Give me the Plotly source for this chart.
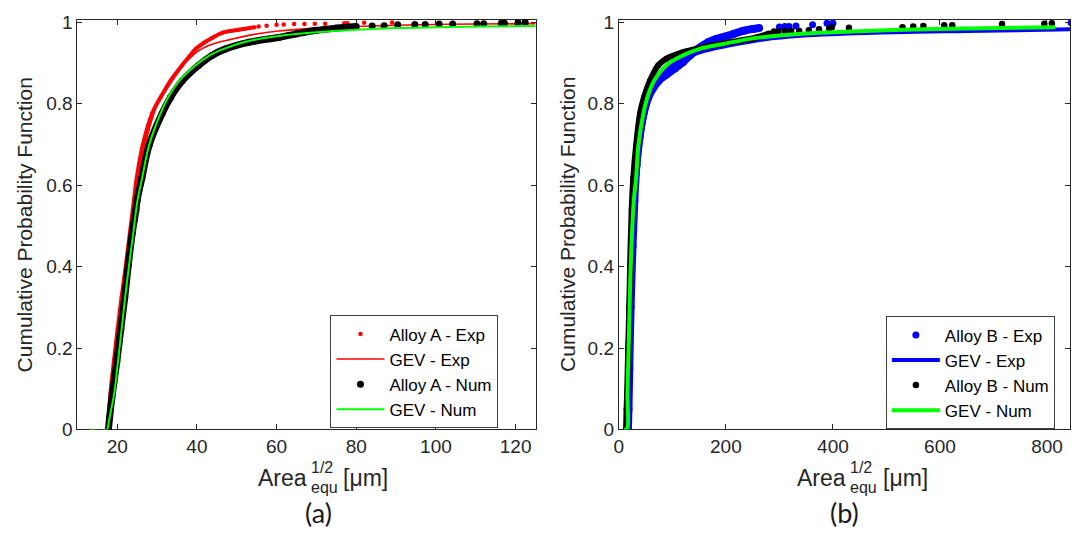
import plotly.graph_objects as go

# ---------------- Panel (a): Alloy A ----------------
a_exp_dense_x = [17.7, 17.9, 18.3, 19.2, 20.1, 21.1, 22.2, 23.2, 24.2, 24.9, 26.4, 28.8, 30.9, 33.4, 36.3, 38.0, 39.7, 41.8, 43.8, 46.5, 50.5, 54.5]
a_exp_dense_y = [0.000, 0.030, 0.088, 0.170, 0.246, 0.325, 0.405, 0.484, 0.563, 0.618, 0.698, 0.777, 0.816, 0.856, 0.895, 0.915, 0.935, 0.950, 0.962, 0.975, 0.982, 0.988]
a_exp_tail_x = [55.5, 57.5, 60.0, 61.8, 64.4, 67.0, 69.6, 72.2, 77.0, 77.8, 82.0, 89.0]
a_exp_tail_y = [0.990, 0.992, 0.994, 0.995, 0.996, 0.996, 0.997, 0.997, 0.998, 0.998, 0.999, 1.000]

a_gev_exp_x = [13, 17.3, 17.8, 18.5, 19.5, 20.5, 21.6, 22.7, 23.8, 25.0, 26.6, 28.7, 31.0, 34.0, 37.5, 40.5, 44.0, 48.8, 54.0, 60.5, 70, 80, 90, 100, 110, 125]
a_gev_exp_y = [0, 0, 0.03, 0.09, 0.18, 0.27, 0.36, 0.45, 0.53, 0.60, 0.68, 0.76, 0.82, 0.87, 0.905, 0.931, 0.947, 0.959, 0.970, 0.979, 0.986, 0.990, 0.993, 0.995, 0.996, 0.997]

a_num_dense_x = [17.8, 18.1, 18.8, 19.9, 20.9, 21.9, 22.8, 23.8, 24.7, 25.0, 26.2, 28.0, 31.3, 33.4, 36.3, 40.5, 43.8, 47.2, 53.0, 60.5, 65.0, 69.6, 75.0, 80.0]
a_num_dense_y = [0.000, 0.030, 0.088, 0.167, 0.246, 0.325, 0.405, 0.484, 0.539, 0.563, 0.618, 0.698, 0.777, 0.816, 0.856, 0.895, 0.919, 0.935, 0.951, 0.963, 0.972, 0.980, 0.986, 0.990]
a_num_tail_x = [84.0, 87.0, 90.4, 94.7, 97.3, 100.8, 104.2, 110.3, 112.0, 116.4, 117.2, 120.6, 122.4]
a_num_tail_y = [0.991, 0.992, 0.994, 0.995, 0.995, 0.996, 0.996, 0.997, 0.997, 0.998, 0.998, 0.999, 1.000]

a_gev_num_x = [13, 17.4, 17.9, 18.6, 19.25, 20.2, 21.1, 22.0, 23.0, 24.0, 25.1, 26.3, 28.0, 30.9, 33.0, 35.5, 39.7, 43.0, 46.75, 52.0, 60.0, 70, 80, 90, 100, 112, 125]
a_gev_num_y = [0, 0, 0.02, 0.055, 0.088, 0.167, 0.246, 0.325, 0.405, 0.48, 0.563, 0.62, 0.698, 0.777, 0.82, 0.856, 0.895, 0.918, 0.935, 0.952, 0.966, 0.976, 0.982, 0.986, 0.988, 0.990, 0.991]

# ---------------- Panel (b): Alloy B ----------------
b_exp_dense_x = [17, 18, 19.5, 22, 25.5, 29, 33, 39, 46, 55, 73.8, 89, 104.8, 120, 132.7, 148, 167, 182, 213, 232, 250.6, 262]
b_exp_dense_y = [0.000, 0.05, 0.15, 0.30, 0.45, 0.563, 0.65, 0.72, 0.777, 0.816, 0.856, 0.872, 0.887, 0.903, 0.919, 0.935, 0.951, 0.959, 0.971, 0.979, 0.984, 0.986]
b_exp_tail_x = [300, 310, 318, 331, 362, 389, 400, 845]
b_exp_tail_y = [0.989, 0.990, 0.990, 0.991, 0.994, 0.998, 0.998, 0.999]

b_gev_exp_x = [9, 15.5, 17, 20, 23.5, 29, 34, 39, 49, 57, 70, 95, 128, 160, 205, 270, 340, 490, 650, 845]
b_gev_exp_y = [0, 0, 0.07, 0.22, 0.38, 0.54, 0.62, 0.69, 0.77, 0.81, 0.85, 0.89, 0.915, 0.93, 0.943, 0.958, 0.967, 0.975, 0.979, 0.983]

b_num_dense_x = [13.5, 14.5, 15.5, 17.5, 19.5, 21, 24, 27, 32.3, 39.7, 47, 58, 73.8, 89, 120, 157, 207, 257, 281]
b_num_dense_y = [0.000, 0.05, 0.088, 0.20, 0.30, 0.40, 0.539, 0.618, 0.698, 0.777, 0.816, 0.856, 0.895, 0.911, 0.927, 0.939, 0.951, 0.963, 0.973]
b_num_tail_x = [290, 298, 310, 322, 337, 355, 374, 393, 398, 430, 530, 550, 569, 608, 623, 716, 795, 809]
b_num_tail_y = [0.978, 0.978, 0.979, 0.979, 0.979, 0.981, 0.983, 0.985, 0.988, 0.987, 0.988, 0.990, 0.991, 0.993, 0.993, 0.996, 0.997, 0.998]

b_gev_num_x = [9, 15, 16.1, 19.2, 22.3, 28, 32.3, 36.6, 46, 53.4, 65.7, 89, 120, 151, 195, 257, 330, 487, 650, 815]
b_gev_num_y = [0, 0, 0.088, 0.246, 0.405, 0.563, 0.618, 0.698, 0.777, 0.816, 0.856, 0.895, 0.919, 0.935, 0.947, 0.962, 0.971, 0.980, 0.985, 0.988]

y_ticks = [0, 0.2, 0.4, 0.6, 0.8, 1]
y_ticktext = ["0", "0.2", "0.4", "0.6", "0.8", "1"]
a_xticks = [20, 40, 60, 80, 100, 120]
b_xticks = [0, 200, 400, 600, 800]

RED, BLACK, GREEN, BLUE = "#ff0000", "#000000", "#00ff00", "#0000ff"

fig = go.Figure()

# Panel (a)
fig.add_trace(go.Scatter(x=a_exp_dense_x, y=a_exp_dense_y, mode="lines+markers",
                         line=dict(color=RED, width=4, shape="spline"), marker=dict(color=RED, size=4),
                         showlegend=False, xaxis="x", yaxis="y"))
fig.add_trace(go.Scatter(x=a_exp_tail_x, y=a_exp_tail_y, mode="markers", name="Alloy A - Exp",
                         marker=dict(color=RED, size=4.5), legend="legend", legendrank=1,
                         xaxis="x", yaxis="y"))
fig.add_trace(go.Scatter(x=a_gev_exp_x, y=a_gev_exp_y, mode="lines", name="GEV - Exp",
                         line=dict(color=RED, width=1.6, shape="spline"), legend="legend", legendrank=2,
                         xaxis="x", yaxis="y"))
fig.add_trace(go.Scatter(x=a_num_dense_x, y=a_num_dense_y, mode="lines+markers",
                         line=dict(color=BLACK, width=7, shape="spline"), marker=dict(color=BLACK, size=7),
                         showlegend=False, xaxis="x", yaxis="y"))
fig.add_trace(go.Scatter(x=a_num_tail_x, y=a_num_tail_y, mode="markers", name="Alloy A - Num",
                         marker=dict(color=BLACK, size=7), legend="legend", legendrank=3,
                         xaxis="x", yaxis="y"))
fig.add_trace(go.Scatter(x=a_gev_num_x, y=a_gev_num_y, mode="lines", name="GEV - Num",
                         line=dict(color=GREEN, width=2, shape="spline"), legend="legend", legendrank=4,
                         xaxis="x", yaxis="y"))

# Panel (b)
fig.add_trace(go.Scatter(x=b_exp_dense_x, y=b_exp_dense_y, mode="lines+markers",
                         line=dict(color=BLUE, width=8, shape="spline"), marker=dict(color=BLUE, size=8),
                         showlegend=False, xaxis="x2", yaxis="y2"))
fig.add_trace(go.Scatter(x=b_exp_tail_x, y=b_exp_tail_y, mode="markers", name="Alloy B - Exp",
                         marker=dict(color=BLUE, size=7), legend="legend2", legendrank=1,
                         xaxis="x2", yaxis="y2"))
fig.add_trace(go.Scatter(x=b_gev_exp_x, y=b_gev_exp_y, mode="lines", name="GEV - Exp",
                         line=dict(color=BLUE, width=4, shape="spline"), legend="legend2", legendrank=2,
                         xaxis="x2", yaxis="y2"))
fig.add_trace(go.Scatter(x=b_num_dense_x, y=b_num_dense_y, mode="lines+markers",
                         line=dict(color=BLACK, width=6, shape="spline"), marker=dict(color=BLACK, size=6),
                         showlegend=False, xaxis="x2", yaxis="y2"))
fig.add_trace(go.Scatter(x=b_num_tail_x, y=b_num_tail_y, mode="markers", name="Alloy B - Num",
                         marker=dict(color=BLACK, size=6.5), legend="legend2", legendrank=3,
                         xaxis="x2", yaxis="y2"))
fig.add_trace(go.Scatter(x=b_gev_num_x, y=b_gev_num_y, mode="lines", name="GEV - Num",
                         line=dict(color=GREEN, width=4, shape="spline"), legend="legend2", legendrank=4,
                         xaxis="x2", yaxis="y2"))

W, H = 1072, 542
def px(x): return x / W
def py(y): return 1 - y / H

AX = "#262626"
FONT = "Liberation Sans, Arial, sans-serif"
common_axis = dict(showline=True, linecolor=AX, linewidth=1, mirror="ticks", ticks="inside",
                   ticklen=5, tickcolor=AX, showgrid=False, zeroline=False, layer="below traces",
                   tickfont=dict(family=FONT, size=19, color=AX))

legend_common = dict(xanchor="left", yanchor="top", bgcolor="white",
                     bordercolor="#404040", borderwidth=1, font=dict(family=FONT, size=17, color="black"),
                     itemwidth=48, tracegroupgap=0)

fig.update_layout(
    width=W, height=H, margin=dict(l=0, r=0, t=0, b=0, pad=0),
    paper_bgcolor="white", plot_bgcolor="white",
    xaxis=dict(domain=[px(72.7), px(533)], range=[10, 125], tickvals=a_xticks, anchor="y", **common_axis),
    yaxis=dict(domain=[py(437), py(13)], range=[0, 1.007], tickvals=y_ticks, ticktext=y_ticktext,
               anchor="x", **common_axis),
    xaxis2=dict(domain=[px(616.7), px(1070)], range=[0, 843], tickvals=b_xticks, anchor="y2", **common_axis),
    yaxis2=dict(domain=[py(437), py(13)], range=[0, 1.007], tickvals=y_ticks, ticktext=y_ticktext,
                anchor="x2", **common_axis),
    legend=dict(x=px(327), y=py(319), **legend_common),
    legend2=dict(x=px(885), y=py(320), **legend_common),
)

ann = []
for cx in (20, 565):
    ann.append(dict(text="Cumulative Probability Function", x=px(cx), y=py(225), xref="paper", yref="paper",
                    showarrow=False, textangle=-90, font=dict(family=FONT, size=21, color=AX),
                    xanchor="center", yanchor="middle"))
for split in (305, 847):
    ann.append(dict(text="Area", x=px(split), y=py(487), xref="paper", yref="paper", showarrow=False,
                    xanchor="right", yanchor="middle", font=dict(family=FONT, size=23, color=AX)))
    ann.append(dict(text="1/2", x=px(split), y=py(476), xref="paper", yref="paper", showarrow=False,
                    xanchor="left", yanchor="middle", font=dict(family=FONT, size=16, color=AX)))
    ann.append(dict(text="equ", x=px(split), y=py(497), xref="paper", yref="paper", showarrow=False,
                    xanchor="left", yanchor="middle", font=dict(family=FONT, size=16, color=AX)))
    ann.append(dict(text="[μm]", x=px(split + 33), y=py(487), xref="paper", yref="paper", showarrow=False,
                    xanchor="left", yanchor="middle", font=dict(family=FONT, size=23, color=AX)))
for lab, cx in (("(a)", 315), ("(b)", 843)):
    ann.append(dict(text=lab, x=px(cx), y=py(523), xref="paper", yref="paper", showarrow=False,
                    xanchor="center", yanchor="middle",
                    font=dict(family="Lato, Open Sans, sans-serif", size=27, color="#1a1a1a")))
fig.update_layout(annotations=ann)

fig.write_html("out.html")
